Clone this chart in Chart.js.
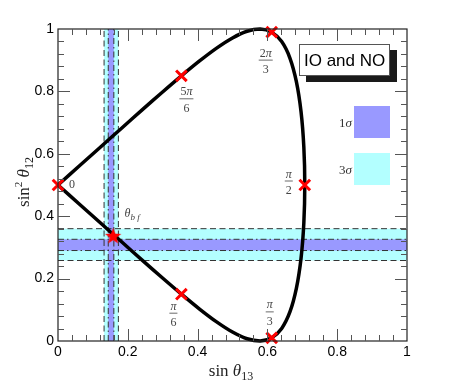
<!DOCTYPE html>
<html><head><meta charset="utf-8">
<script src="https://cdn.jsdelivr.net/npm/chart.js@4/dist/chart.umd.min.js"></script>
<style>html,body{margin:0;padding:0;background:#fff}</style>
</head><body>
<canvas id="c" width="450" height="384"></canvas>
<script>
// ---- data ----
const curveX = [0, 0.0616, 0.1228, 0.1830, 0.2419, 0.2988, 0.3536, 0.4056, 0.4545, 0.5000, 0.5417, 0.5792, 0.6124, 0.6409, 0.6645, 0.6830, 0.6964, 0.7044, 0.7071, 0.7044, 0.6964, 0.6830, 0.6645, 0.6409, 0.6124, 0.5792, 0.5417, 0.5000, 0.4545, 0.4056, 0.3536, 0.2988, 0.2419, 0.1830, 0.1228, 0.0616, 0];
const curveY = [0.5, 0.4384, 0.3772, 0.3171, 0.2586, 0.2026, 0.1501, 0.1024, 0.0612, 0.0286, 0.0072, 0.0000, 0.0101, 0.0404, 0.0931, 0.1686, 0.2652, 0.3781, 0.5, 0.6219, 0.7348, 0.8314, 0.9069, 0.9596, 0.9899, 1.0000, 0.9928, 0.9714, 0.9388, 0.8976, 0.8499, 0.7974, 0.7414, 0.6829, 0.6228, 0.5616, 0.5];
const markerLabels = ['0', 'π/6', 'π/3', 'π/2', '2π/3', '5π/6'];
const markerX = [0, 0.3536, 0.6124, 0.7071, 0.6124, 0.3536];
const markerY = [0.5, 0.150, 0.010, 0.5, 0.990, 0.850];
const bestFitX = [0.158];
const bestFitY = [0.337];
const sigma1X = [0.144, 0.160];
const sigma3X = [0.132, 0.173];
const sigma1Y = [0.290, 0.326];
const sigma3Y = [0.258, 0.360];
const xTickValues = [0, 0.2, 0.4, 0.6, 0.8, 1];
const yTickValues = [0, 0.2, 0.4, 0.6, 0.8, 1];
const xTickLabels = ['0', '0.2', '0.4', '0.6', '0.8', '1'];
const yTickLabels = ['0', '0.2', '0.4', '0.6', '0.8', '1'];
const legendTitle = 'IO and NO';
const legendLabels = ['1σ', '3σ'];

// ---- styling ----
const SERIF = '"Liberation Serif", "DejaVu Serif", serif';
const SANS = '"Liberation Sans", Arial, sans-serif';
const C1 = '#9999ff', C3 = '#b3ffff';

function toPts(xs, ys) { return xs.map((x, i) => ({x: x, y: ys[i]})); }

// star point image
const starImg = document.createElement('canvas');
starImg.width = 18; starImg.height = 18;
(function () {
  const g = starImg.getContext('2d');
  g.fillStyle = '#ff0000';
  g.beginPath();
  for (let k = 0; k < 10; k++) {
    const r = k % 2 === 0 ? 8.5 : 3.6;
    const a = -Math.PI / 2 + k * Math.PI / 5;
    const px = 9 + r * Math.cos(a), py = 9.6 + r * Math.sin(a);
    if (k === 0) g.moveTo(px, py); else g.lineTo(px, py);
  }
  g.closePath(); g.fill();
})();

function drawRich(ctx, parts, x, y, align) {
  let w = 0;
  parts.forEach(p => { ctx.font = p[1]; p.w = ctx.measureText(p[0]).width; w += p.w; });
  let cx = align === 'center' ? x - w / 2 : (align === 'right' ? x - w : x);
  ctx.textAlign = 'left'; ctx.textBaseline = 'alphabetic';
  parts.forEach(p => { ctx.font = p[1]; ctx.fillText(p[0], cx, y + (p[2] || 0)); cx += p.w; });
  return w;
}
function richWidth(ctx, parts) {
  let w = 0; parts.forEach(p => { ctx.font = p[1]; w += ctx.measureText(p[0]).width; }); return w;
}
function numParts(s, size) {
  const out = [];
  for (const ch of s) out.push([ch, (ch === 'π' ? 'italic ' : '') + size + 'px ' + SERIF]);
  return out;
}
function drawFrac(ctx, cx, cy, label) {
  const [n, d] = label.split('/');
  const np = numParts(n, 12), dp = numParts(d, 12);
  const w = Math.max(richWidth(ctx, np), richWidth(ctx, dp)) + 2;
  drawRich(ctx, np, cx, cy - 3.5, 'center');
  drawRich(ctx, dp, cx, cy + 13, 'center');
  ctx.lineWidth = 0.8;
  ctx.beginPath(); ctx.moveTo(cx - w / 2, cy); ctx.lineTo(cx + w / 2, cy); ctx.stroke();
}

const labelOffsets = {
  '0': [14, -1], 'π/6': [-8, 19], 'π/3': [-2, -26], 'π/2': [-16, -4], '2π/3': [-6, 28], '5π/6': [5, 23]
};

const decor = {
  id: 'decor',
  beforeDatasetsDraw(chart) {
    const ctx = chart.ctx, xs = chart.scales.x, ys = chart.scales.y, a = chart.chartArea;
    ctx.save();
    ctx.beginPath(); ctx.rect(a.left, a.top, a.width, a.height); ctx.clip();
    const hBand = (r, c) => { const y0 = ys.getPixelForValue(r[1]), y1 = ys.getPixelForValue(r[0]); ctx.fillStyle = c; ctx.fillRect(a.left, y0, a.width, y1 - y0); };
    const vBand = (r, c) => { const x0 = xs.getPixelForValue(r[0]), x1 = xs.getPixelForValue(r[1]); ctx.fillStyle = c; ctx.fillRect(x0, a.top, x1 - x0, a.height); };
    hBand(sigma3Y, C3); vBand(sigma3X, C3); hBand(sigma1Y, C1); vBand(sigma1X, C1);
    ctx.strokeStyle = '#333'; ctx.lineWidth = 1;
    const hLine = (v, dash) => { const y = ys.getPixelForValue(v); ctx.setLineDash(dash); ctx.beginPath(); ctx.moveTo(a.left, y); ctx.lineTo(a.right, y); ctx.stroke(); };
    const vLine = (v, dash) => { const x = xs.getPixelForValue(v); ctx.setLineDash(dash); ctx.beginPath(); ctx.moveTo(x, a.bottom); ctx.lineTo(x, a.top); ctx.stroke(); };
    const dashed = [6, 3.5], dashdot = [6, 3, 1.5, 3];
    sigma3Y.forEach(v => hLine(v, dashed)); sigma1Y.forEach(v => hLine(v, dashdot));
    sigma3X.forEach(v => vLine(v, dashed)); sigma1X.forEach(v => vLine(v, dashdot));
    ctx.restore();
  },
  afterDraw(chart) {
    const ctx = chart.ctx, xs = chart.scales.x, ys = chart.scales.y, a = chart.chartArea;
    ctx.save();
    // frame
    ctx.strokeStyle = '#222'; ctx.lineWidth = 1.2; ctx.setLineDash([]);
    ctx.strokeRect(a.left, a.top, a.right - a.left, a.bottom - a.top);
    // inward ticks
    ctx.strokeStyle = '#555'; ctx.lineWidth = 1;
    for (let i = 1; i < 25; i++) {
      const v = i * 0.04, len = (i % 5 === 0) ? 12 : 6;
      const px = Math.round(xs.getPixelForValue(v)) + 0.5, py = Math.round(ys.getPixelForValue(v)) + 0.5;
      ctx.beginPath();
      ctx.moveTo(px, a.bottom); ctx.lineTo(px, a.bottom - len);
      ctx.moveTo(px, a.top); ctx.lineTo(px, a.top + len);
      ctx.moveTo(a.left, py); ctx.lineTo(a.left + len, py);
      ctx.moveTo(a.right, py); ctx.lineTo(a.right - len, py);
      ctx.stroke();
    }
    // point labels
    ctx.fillStyle = '#444'; ctx.strokeStyle = '#444';
    markerLabels.forEach((lab, i) => {
      const px = xs.getPixelForValue(markerX[i]), py = ys.getPixelForValue(markerY[i]);
      const o = labelOffsets[lab];
      if (lab.indexOf('/') < 0) {
        drawRich(ctx, [[lab, '12px ' + SERIF]], px + o[0], py + o[1] + 4, 'center');
      } else {
        drawFrac(ctx, px + o[0], py + o[1], lab);
      }
    });
    // theta_bf label
    {
      const px = xs.getPixelForValue(bestFitX[0]), py = ys.getPixelForValue(bestFitY[0]);
      drawRich(ctx, [['θ', 'italic 12px ' + SERIF], ['b f', 'italic 9px ' + SERIF, 3]], px + 19, py - 19, 'center');
    }
    // legend
    ctx.fillStyle = '#1a1a1a'; ctx.fillRect(306, 50, 91, 32);
    ctx.fillStyle = '#fff'; ctx.fillRect(299, 44, 91, 32);
    ctx.strokeStyle = '#555'; ctx.lineWidth = 1; ctx.strokeRect(299.5, 44.5, 90, 31);
    ctx.fillStyle = '#000';
    drawRich(ctx, [[legendTitle, '17px ' + SANS]], 304, 66, 'left');
    ctx.fillStyle = C1; ctx.fillRect(354, 106, 36, 32);
    ctx.fillStyle = C3; ctx.fillRect(354, 153, 36, 32);
    ctx.fillStyle = '#333';
    legendLabels.forEach((l, i) => {
      drawRich(ctx, [[l[0], '13px ' + SERIF], [l.slice(1), 'italic 13px ' + SERIF]], 352, 127 + i * 47, 'right');
    });
    // axis titles
    ctx.fillStyle = '#222';
    drawRich(ctx, [['sin ', '17px ' + SERIF], ['θ', 'italic 17px ' + SERIF], ['13', '12px ' + SERIF, 4]], 231, 376, 'center');
    ctx.translate(29, 182); ctx.rotate(-Math.PI / 2);
    drawRich(ctx, [['sin', '17px ' + SERIF], ['2', '11px ' + SERIF, -7], [' ', '17px ' + SERIF], ['θ', 'italic 17px ' + SERIF], ['12', '12px ' + SERIF, 4]], 0, 0, 'center');
    ctx.restore();
  }
};

new Chart(document.getElementById('c'), {
  type: 'scatter',
  data: {
    datasets: [
      { data: toPts(bestFitX, bestFitY), pointStyle: starImg, pointRadius: 8, clip: false },
      { data: toPts(markerX, markerY), pointStyle: 'crossRot', pointRadius: 7.5, pointBorderWidth: 3, borderColor: '#ff0000', backgroundColor: '#ff0000', clip: false },
      { data: toPts(curveX, curveY), showLine: true, borderColor: '#000', borderWidth: 3.5, pointRadius: 0, tension: 0.35, clip: false, fill: false }
    ]
  },
  options: {
    responsive: false, animation: false,
    layout: { padding: { left: 0, right: 43, top: 29, bottom: 0 } },
    plugins: { legend: { display: false }, tooltip: { enabled: false } },
    scales: {
      x: {
        type: 'linear', min: 0, max: 1,
        grid: { display: false, drawTicks: false }, border: { display: false },
        afterBuildTicks: s => { s.ticks = xTickValues.map(v => ({ value: v })); },
        afterFit: s => { s.height = 43; },
        ticks: { color: '#000', padding: 3, maxRotation: 0, font: { family: SANS, size: 14 },
          callback: (v, i) => xTickLabels[i] }
      },
      y: {
        type: 'linear', min: 0, max: 1,
        grid: { display: false, drawTicks: false }, border: { display: false },
        afterBuildTicks: s => { s.ticks = yTickValues.map(v => ({ value: v })); },
        afterFit: s => { s.width = 58; },
        ticks: { color: '#000', padding: 4, font: { family: SANS, size: 14 },
          callback: (v, i) => yTickLabels[i] }
      }
    }
  },
  plugins: [decor]
});
</script>
</body></html>
